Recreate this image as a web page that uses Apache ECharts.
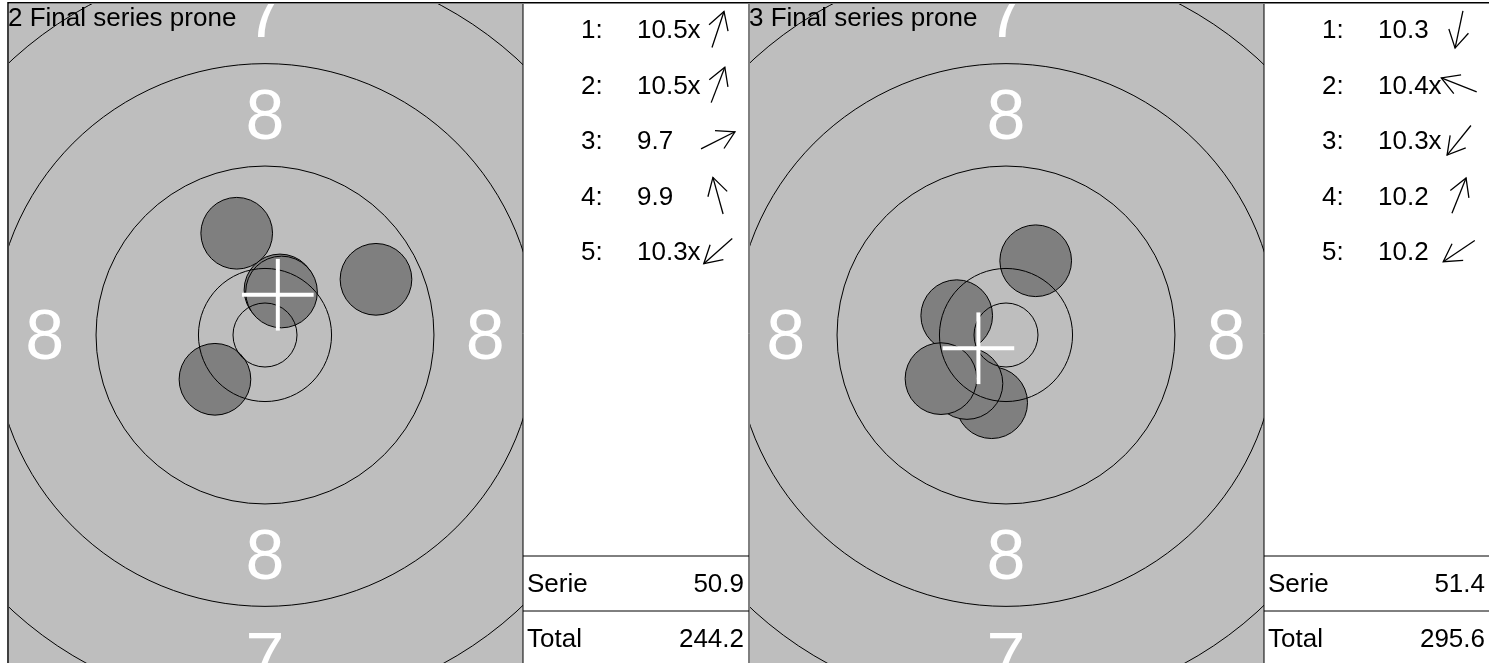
<!DOCTYPE html>
<html>
<head>
<meta charset="utf-8">
<title>Final series prone</title>
<script src="https://cdn.jsdelivr.net/npm/echarts@6/dist/echarts.min.js"></script>
<style>
  html, body { margin: 0; padding: 0; background: #fff; }
  #chart { width: 1489px; height: 663px; }
</style>
</head>
<body>
<div id="chart"></div>
<script>
// titles of the two series
const seriesTitles = ['2 Final series prone', '3 Final series prone'];

// shot positions in mm from the target centre (x to the right, y up)
const shotsX2 = [1.17, 1.29, 8.67, -2.21, -3.91];
const shotsY2 = [3.52, 3.36, 4.35, 7.95, -3.46];
const shotsX3 = [-1.12, -3.85, -3.05, 2.32, -5.08];
const shotsY3 = [-5.29, 1.51, -3.79, 5.80, -3.41];

// decimal scores and inner ten flags as printed in the table
const scores2 = [10.5, 10.5, 9.7, 9.9, 10.3];
const scores3 = [10.3, 10.4, 10.3, 10.2, 10.2];
const innerTen2 = [true, true, false, false, true];
const innerTen3 = [false, true, true, false, false];
const totals = [244.2, 295.6];

// ring radii in mm, 50m rifle target (inner ten, 10, 9, 8 ...)
const ringScores = ['x', 10, 9, 8, 7, 6, 5];
const ringRadii = [2.5, 5.2, 13.2, 21.2, 29.2, 37.2, 45.2];
const bulletRadius = 2.8;

const panelShotsX = [shotsX2, shotsX3];
const panelShotsY = [shotsY2, shotsY3];
const panelScores = [scores2, scores3];
const panelInnerTen = [innerTen2, innerTen3];

// layout
const FONT = '"Liberation Sans", Arial, sans-serif';
const PX_PER_MM = 12.8;
const panelX = [8, 749];
const TOP = 4;
const BOTTOM = 663;
const CENTER_Y = 335;
const TARGET_W = 514;
const CENTER_DX = 257;
const TABLE_DX = 515;
const TABLE_W = 226;
// canvas 'middle' sits a bit above the cap centre
const MID_SHIFT = 0.07;

// zone numbers are printed between two rings (only 8 and below)
let zoneLabels = [];
for (let i = 1; i < ringScores.length; i++) {
  if (ringScores[i] <= 8) {
    let rad = (ringRadii[i - 1] + ringRadii[i]) / 2;
    [[0, rad], [0, -rad], [-rad, 0], [rad, 0]].forEach(function (p) {
      zoneLabels.push({ pos: p, text: String(ringScores[i]) });
    });
  }
}

function mean (arr) {
  return arr.reduce(function (a, b) { return a + b; }, 0) / arr.length;
}

function renderShot (params, api) {
  const c = api.coord([api.value(0), api.value(1)]);
  const r = api.size([bulletRadius, 0])[0];
  return {
    type: 'circle',
    shape: { cx: c[0], cy: c[1], r: r },
    style: { fill: '#7f7f7f', stroke: '#000', lineWidth: 1 }
  };
}

function renderRing (params, api) {
  const c = api.coord([api.value(0), api.value(1)]);
  const r = api.size([api.value(2), 0])[0];
  return {
    type: 'circle',
    shape: { cx: c[0], cy: c[1], r: r },
    style: { fill: 'none', stroke: '#000', lineWidth: 1 }
  };
}

function renderZoneLabel (params, api) {
  const c = api.coord([api.value(0), api.value(1)]);
  return {
    type: 'text',
    x: c[0],
    y: c[1] + 70 * MID_SHIFT,
    style: {
      text: zoneLabels[params.dataIndex].text,
      fontSize: 70,
      fontFamily: FONT,
      fill: '#fff',
      align: 'center',
      verticalAlign: 'middle'
    }
  };
}

function renderCross (params, api) {
  const c = api.coord([api.value(0), api.value(1)]);
  const h = api.size([bulletRadius, 0])[0];
  const st = { stroke: '#fff', lineWidth: 4 };
  return {
    type: 'group',
    children: [
      { type: 'line', shape: { x1: c[0] - h, y1: c[1], x2: c[0] + h, y2: c[1] }, style: st },
      { type: 'line', shape: { x1: c[0], y1: c[1] - h, x2: c[0], y2: c[1] + h }, style: st }
    ]
  };
}

let grids = [];
let xAxes = [];
let yAxes = [];
let series = [];
let graphics = [];

function line (x1, y1, x2, y2, w) {
  return {
    type: 'line',
    silent: true,
    z: 100,
    shape: { x1: x1, y1: y1, x2: x2, y2: y2 },
    style: { stroke: '#000', lineWidth: w || 1 }
  };
}

function text (str, x, y, align, size) {
  size = size || 26;
  return {
    type: 'text',
    silent: true,
    z: 100,
    x: x,
    y: y + size * MID_SHIFT,
    style: {
      text: str,
      fontSize: size,
      fontFamily: FONT,
      fill: '#000',
      align: align || 'left',
      verticalAlign: 'middle'
    }
  };
}

for (let k = 0; k < panelX.length; k++) {
  const x0 = panelX[k];
  const left = x0 + 1;
  const cx = x0 + CENTER_DX;
  const xs = panelShotsX[k];
  const ys = panelShotsY[k];

  grids.push({
    left: left,
    top: TOP,
    width: TARGET_W,
    height: BOTTOM - TOP,
    show: true,
    backgroundColor: '#bebebe',
    borderWidth: 0
  });
  xAxes.push({
    gridIndex: k,
    type: 'value',
    show: false,
    min: (left - cx) / PX_PER_MM,
    max: (left + TARGET_W - cx) / PX_PER_MM
  });
  yAxes.push({
    gridIndex: k,
    type: 'value',
    show: false,
    min: -(BOTTOM - CENTER_Y) / PX_PER_MM,
    max: (CENTER_Y - TOP) / PX_PER_MM
  });

  const common = {
    type: 'custom',
    xAxisIndex: k,
    yAxisIndex: k,
    clip: true,
    silent: true
  };
  series.push(Object.assign({}, common, {
    name: 'shots ' + k,
    z: 2,
    renderItem: renderShot,
    data: xs.map(function (x, i) { return [x, ys[i]]; })
  }));
  series.push(Object.assign({}, common, {
    name: 'rings ' + k,
    z: 3,
    renderItem: renderRing,
    data: ringRadii.map(function (r) { return [0, 0, r]; })
  }));
  series.push(Object.assign({}, common, {
    name: 'zones ' + k,
    z: 4,
    renderItem: renderZoneLabel,
    data: zoneLabels.map(function (z) { return z.pos; })
  }));
  // group centre
  series.push(Object.assign({}, common, {
    name: 'centre ' + k,
    z: 5,
    renderItem: renderCross,
    data: [[mean(xs), mean(ys)]]
  }));

  // title
  graphics.push(text(seriesTitles[k], x0, 17.5));

  // table with shot values and direction arrows
  const tx = x0 + TABLE_DX;
  const scores = panelScores[k];
  const inner = panelInnerTen[k];
  for (let i = 0; i < scores.length; i++) {
    const ry = 29.5 + i * 55.4;
    graphics.push(text((i + 1) + ':', tx + 58, ry));
    graphics.push(text(scores[i].toFixed(1) + (inner[i] ? 'x' : ''), tx + 114, ry));

    const len = Math.hypot(xs[i], ys[i]);
    const ux = xs[i] / len;
    const uy = -ys[i] / len;
    const ax = tx + 195;
    const tipX = ax + ux * 19;
    const tipY = ry + uy * 19;
    const head = [];
    [-30, 30].forEach(function (deg) {
      const a = deg * Math.PI / 180;
      const bx = -ux * Math.cos(a) + uy * Math.sin(a);
      const by = -ux * Math.sin(a) - uy * Math.cos(a);
      head.push([tipX + bx * 20, tipY + by * 20]);
    });
    graphics.push(line(ax - ux * 19, ry - uy * 19, tipX, tipY, 1.3));
    graphics.push({
      type: 'polyline',
      silent: true,
      z: 100,
      shape: { points: [head[0], [tipX, tipY], head[1]] },
      style: { stroke: '#000', lineWidth: 1.3, fill: 'none' }
    });
  }
  const serie = scores.reduce(function (a, b) { return a + b; }, 0);
  graphics.push(text('Serie', tx + 4, 583.5));
  graphics.push(text(serie.toFixed(1), tx + TABLE_W - 5, 583.5, 'right'));
  graphics.push(text('Total', tx + 4, 638.5));
  graphics.push(text(totals[k].toFixed(1), tx + TABLE_W - 5, 638.5, 'right'));

  // frame lines
  graphics.push(line(tx, TOP, tx, BOTTOM, 1));
  graphics.push(line(tx + TABLE_W, TOP, tx + TABLE_W, BOTTOM, 1));
  graphics.push(line(tx, 556, tx + TABLE_W, 556, 1));
  graphics.push(line(tx, 611, tx + TABLE_W, 611, 1));
}
graphics.push(line(panelX[0], 2.75, 1489, 2.75, 1.5));
graphics.push(line(panelX[0], 2, panelX[0], BOTTOM, 1.5));

const chart = echarts.init(document.getElementById('chart'), null, { renderer: 'canvas' });
chart.setOption({
  animation: false,
  backgroundColor: '#fff',
  grid: grids,
  xAxis: xAxes,
  yAxis: yAxes,
  series: series,
  graphic: graphics
});
</script>
</body>
</html>
